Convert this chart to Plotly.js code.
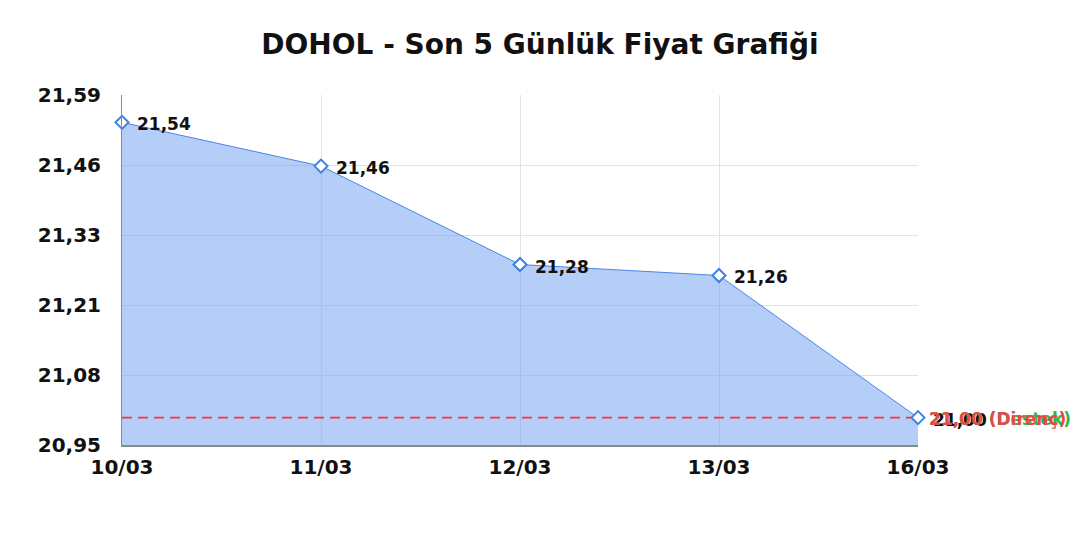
<!DOCTYPE html>
<html>
<head>
<meta charset="utf-8">
<script src="https://cdn.plot.ly/plotly-3.0.1.min.js"></script>
<style>html,body{margin:0;padding:0;background:#fff;}#chart{width:1080px;height:540px;}</style>
</head>
<body>
<div id="chart"></div>
<script>
const dates = ["10/03", "11/03", "12/03", "13/03", "16/03"];
const prices = [21.54, 21.46, 21.28, 21.26, 21.00];
const priceLabels = ["21,54", "21,46", "21,28", "21,26", "21,00"];
const yTickVals = [20.95, 21.078, 21.206, 21.334, 21.462, 21.59];
const yTickText = ["20,95", "21,08", "21,21", "21,33", "21,46", "21,59"];
const supportLevel = 21.00;
const resistanceLevel = 21.00;
const supportLabel = "21,00 (Destek)";
const resistanceLabel = "21,00 (Direnç)";

const xIdx = dates.map((d, i) => i);
const FONT = "DejaVu Sans, sans-serif";

const traces = [
  {
    x: xIdx, y: prices.map(() => yTickVals[0]),
    mode: "lines", line: {width: 0}, hoverinfo: "skip", showlegend: false
  },
  {
    x: xIdx, y: prices,
    mode: "lines", fill: "tonexty",
    fillcolor: "rgba(120,165,240,0.55)",
    line: {color: "#4a86e8", width: 1},
    hoverinfo: "skip", showlegend: false
  },
  {
    x: [xIdx[0], xIdx[xIdx.length - 1]], y: [resistanceLevel, resistanceLevel],
    mode: "lines", line: {color: "#ff3030", width: 1.6, dash: "10px,6px"},
    opacity: 1,
    hoverinfo: "skip", showlegend: false
  },
  {
    x: xIdx, y: prices,
    mode: "markers",
    marker: {symbol: "diamond", size: 10, color: "#ffffff", line: {width: 2, color: "#3f7fe6"}},
    hoverinfo: "skip", showlegend: false, cliponaxis: false
  }
];

const annotations = xIdx.map((xi, i) => ({
  x: xi, y: prices[i], xref: "x", yref: "y", text: priceLabels[i], showarrow: false,
  xanchor: "left", yanchor: "middle", xshift: 13, yshift: -2,
  font: {family: FONT, size: 17, color: "#111", weight: "bold"}
}));
annotations.push(
  {x: 1, xref: "paper", y: supportLevel, yref: "y", text: supportLabel, showarrow: false,
   xanchor: "left", yanchor: "middle", xshift: 9, yshift: -1, font: {family: FONT, size: 17, color: "#2db84a", weight: "bold"}},
  {x: 1, xref: "paper", y: resistanceLevel, yref: "y", text: resistanceLabel, showarrow: false,
   xanchor: "left", yanchor: "middle", xshift: 9, yshift: -1, font: {family: FONT, size: 17, color: "#e84a4a", weight: "bold"}}
);

const layout = {
  width: 1080, height: 540,
  margin: {l: 122, r: 162, t: 95, b: 95},
  paper_bgcolor: "#fff", plot_bgcolor: "#fff",
  title: {text: "DOHOL - Son 5 Günlük Fiyat Grafiği", x: 0.5, xanchor: "center", y: 0.937, yanchor: "top",
    font: {family: FONT, size: 28, color: "#111", weight: "bold"}},
  xaxis: {
    range: [0, xIdx.length - 1],
    tickvals: xIdx, ticktext: dates,
    tickfont: {family: FONT, size: 20, color: "#111", weight: "bold"},
    showgrid: true, gridcolor: "#e3e3e3", gridwidth: 1,
    showline: true, linecolor: "#888", linewidth: 2,
    zeroline: false, ticks: "", ticklabelstandoff: 3, fixedrange: true
  },
  yaxis: {
    range: [yTickVals[0], yTickVals[yTickVals.length - 1]],
    tickvals: yTickVals, ticktext: yTickText,
    tickfont: {family: FONT, size: 20, color: "#111", weight: "bold"},
    showgrid: true, gridcolor: "#e3e3e3", gridwidth: 1,
    showline: true, linecolor: "#888", linewidth: 1,
    zeroline: false, ticks: "", ticklabelstandoff: 16, fixedrange: true
  },
  annotations: annotations
};

Plotly.newPlot("chart", traces, layout, {displayModeBar: false, staticPlot: true});
</script>
</body>
</html>
